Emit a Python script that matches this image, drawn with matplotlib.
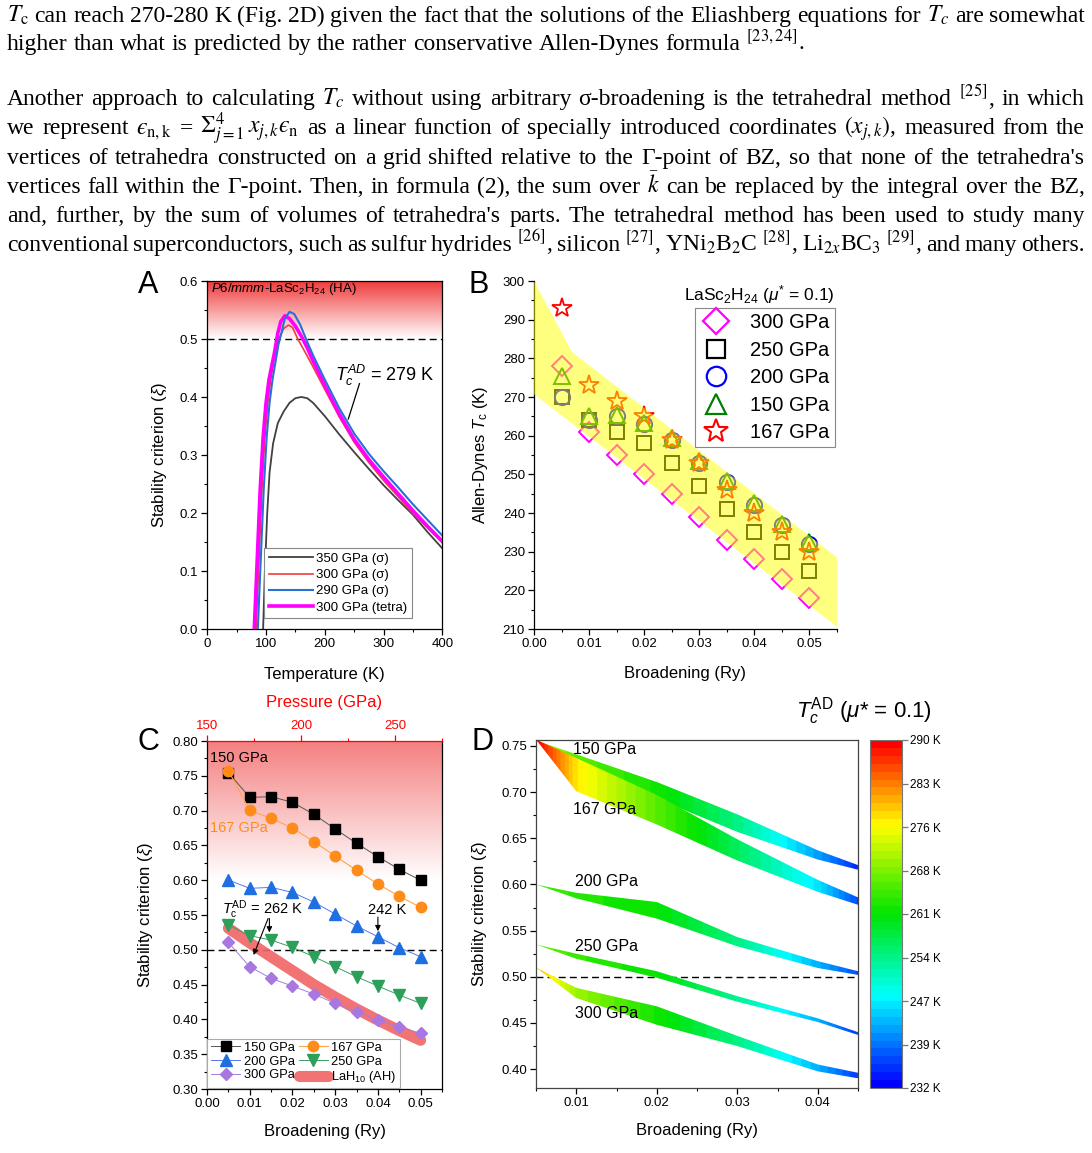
import numpy as np
import matplotlib
matplotlib.use("Agg")
import matplotlib.pyplot as plt
from matplotlib.colors import LinearSegmentedColormap, Normalize
from matplotlib.patches import Polygon
from matplotlib.lines import Line2D
import matplotlib.ticker as mticker
import matplotlib.colorbar as mcolorbar

plt.rcParams['font.family'] = ['Liberation Sans', 'DejaVu Sans']
plt.rcParams['mathtext.fontset'] = 'custom'
plt.rcParams['mathtext.rm'] = 'Liberation Sans'
plt.rcParams['mathtext.it'] = 'Liberation Sans:italic'
plt.rcParams['mathtext.bf'] = 'Liberation Sans:bold'
plt.rcParams['mathtext.sf'] = 'Liberation Sans'
plt.rcParams['axes.linewidth'] = 0.9
plt.rcParams['xtick.major.width'] = 0.9
plt.rcParams['ytick.major.width'] = 0.9
plt.rcParams['xtick.minor.width'] = 0.8
plt.rcParams['ytick.minor.width'] = 0.8

# ---------------- DATA ----------------
# Panel A: stability criterion vs temperature
T_350 = [95, 98, 102, 106, 112, 120, 130, 140, 150, 160, 170, 180, 200, 225, 250, 275, 300, 325, 350, 375, 400]
xi_350 = [0.0, 0.10, 0.20, 0.27, 0.32, 0.355, 0.375, 0.39, 0.398, 0.40, 0.398, 0.39, 0.367, 0.335, 0.305, 0.276, 0.248, 0.222, 0.197, 0.167, 0.139]
T_300 = [83, 88, 93, 98, 103, 108, 113, 118, 123, 130, 138, 145, 154, 165, 180, 200, 225, 250, 275, 300, 325, 350, 375, 400]
xi_300 = [0.0, 0.12, 0.24, 0.33, 0.39, 0.43, 0.46, 0.485, 0.503, 0.518, 0.524, 0.52, 0.50, 0.48, 0.452, 0.413, 0.365, 0.322, 0.287, 0.256, 0.228, 0.199, 0.174, 0.149]
T_290 = [86, 91, 96, 101, 106, 111, 116, 121, 126, 132, 140, 148, 158, 168, 180, 200, 225, 250, 275, 300, 325, 350, 375, 400]
xi_290 = [0.0, 0.12, 0.24, 0.33, 0.39, 0.43, 0.46, 0.49, 0.51, 0.535, 0.547, 0.543, 0.525, 0.50, 0.472, 0.43, 0.38, 0.337, 0.302, 0.272, 0.244, 0.215, 0.188, 0.161]
T_tet = [80, 85, 90, 95, 100, 105, 110, 115, 120, 125, 132, 140, 150, 160, 170, 180, 200, 225, 250, 275, 300, 325, 350, 375, 400]
xi_tet = [0.0, 0.12, 0.24, 0.33, 0.39, 0.43, 0.455, 0.48, 0.51, 0.53, 0.54, 0.535, 0.522, 0.505, 0.485, 0.462, 0.42, 0.37, 0.327, 0.292, 0.262, 0.233, 0.204, 0.177, 0.151]
labels_A = ["350 GPa (σ)", "300 GPa (σ)", "290 GPa (σ)", "300 GPa (tetra)"]

# Panel B: Allen-Dynes Tc vs broadening
broad = [0.005, 0.01, 0.015, 0.02, 0.025, 0.03, 0.035, 0.04, 0.045, 0.05]
Tc_300 = [278, 261, 255, 250, 245, 239, 233, 228, 223, 218]
Tc_250 = [270, 264, 261, 258, 253, 247, 241, 235, 230, 225]
Tc_200 = [270, 264, 265, 263, 259, 253, 248, 242, 237, 232]
Tc_150 = [275.4, 265.1, 265.3, 263.3, 259.3, 253.5, 248.3, 242.5, 237.1, 232.6]
Tc_167 = [293, 273, 269, 265, 259, 253, 246, 240, 235, 230]
band_upper_x = [0.0, 0.00685, 0.055]
band_upper = [300, 281.7, 228.5]
band_lower_x = [0.0, 0.055]
band_lower = [270.7, 210.6]

# Panel C: stability criterion vs broadening
xiC_150 = [0.7545, 0.719, 0.72, 0.712, 0.6946, 0.6736, 0.653, 0.6338, 0.6156, 0.5998]
xiC_167 = [0.7574, 0.7004, 0.6889, 0.675, 0.6554, 0.6348, 0.6142, 0.5945, 0.5768, 0.561]
xiC_200 = [0.6003, 0.5883, 0.5897, 0.5825, 0.5686, 0.5514, 0.5341, 0.5188, 0.503, 0.4901]
xiC_250 = [0.5356, 0.5203, 0.514, 0.5035, 0.4901, 0.4757, 0.4613, 0.4479, 0.435, 0.423]
xiC_300 = [0.5107, 0.4757, 0.4589, 0.4479, 0.4364, 0.423, 0.4111, 0.399, 0.3895, 0.3799]
xiC_LaH10 = [0.531, 0.51, 0.49, 0.47, 0.45, 0.432, 0.415, 0.399, 0.384, 0.370]
pressure_ticks = [150, 200, 250]

# Panel D: ribbons (upper / lower edge of xi) coloured by Tc
xD = [0.005, 0.01, 0.02, 0.03, 0.04, 0.045]
ribbons = {
    "150": dict(up=[0.756, 0.741, 0.711, 0.676, 0.637, 0.621], lo=[0.756, 0.735, 0.693, 0.657, 0.627, 0.616],
                tc=[272, 266, 262, 254, 242, 235]),
    "167": dict(up=[0.757, 0.737, 0.697, 0.649, 0.605, 0.586], lo=[0.757, 0.701, 0.665, 0.626, 0.592, 0.578],
                tc=[290, 277, 266, 256, 246, 237]),
    "200": dict(up=[0.600, 0.591, 0.581, 0.543, 0.517, 0.506], lo=[0.600, 0.585, 0.563, 0.533, 0.5095, 0.502],
                tc=[266, 263, 261, 254, 243, 237]),
    "250": dict(up=[0.535, 0.525, 0.506, 0.479, 0.455, 0.440], lo=[0.535, 0.5195, 0.499, 0.473, 0.451, 0.437],
                tc=[268, 264, 261, 253, 243, 236]),
    "300": dict(up=[0.510, 0.488, 0.468, 0.436, 0.405, 0.396], lo=[0.510, 0.477, 0.448, 0.425, 0.3975, 0.390],
                tc=[280, 270, 262, 254, 243, 236]),
}
cbar_ticks = [232, 239.25, 246.5, 253.75, 261, 268.25, 275.5, 282.75, 290]
cbar_labels = ["232 K", "239 K", "247 K", "254 K", "261 K", "268 K", "276 K", "283 K", "290 K"]

# ---------------- FIGURE ----------------
W, H = 1092, 1153
fig = plt.figure(figsize=(W / 100, H / 100), dpi=100)


def rect(x0, y0, x1, y1):
    return [x0 / W, 1 - y1 / H, (x1 - x0) / W, (y1 - y0) / H]


# ---- paragraph text ----
para = [
    (r"$T_\mathrm{c}$ can reach 270-280 K (Fig. 2D) given the fact that the solutions of the Eliashberg equations for $T_c$ are somewhat", 22, True),
    (r"higher than what is predicted by the rather conservative Allen-Dynes formula ${}^{[23,24]}$.", 50, False),
    (r"Another approach to calculating $T_c$ without using arbitrary σ-broadening is the tetrahedral method ${}^{[25]}$, in which", 105, True),
    (r"we represent $ϵ_{\mathrm{n,k}}$ = $\Sigma_{j=1}^{4}\,x_{j,k}ϵ_{\mathrm{n}}$ as a linear function of specially introduced coordinates $(x_{j,k})$, measured from the", 134, True),
    (r"vertices of tetrahedra constructed on a grid shifted relative to the Γ-point of BZ, so that none of the tetrahedra's", 164, True),
    (r"vertices fall within the Γ-point. Then, in formula (2), the sum over $\bar{k}$ can be replaced by the integral over the BZ,", 193, True),
    (r"and, further, by the sum of volumes of tetrahedra's parts. The tetrahedral method has been used to study many", 222, True),
    (r"conventional superconductors, such as sulfur hydrides ${}^{[26]}$, silicon ${}^{[27]}$, YNi$_2$B$_2$C ${}^{[28]}$, Li$_{2x}$BC$_3$ ${}^{[29]}$, and many others.", 251, True),
]
renderer = fig.canvas.get_renderer()
PSIZE = 17.0
for text, yb, just in para:
    words = text.split(' ')
    objs = [fig.text(7 / W, 1 - yb / H, w, fontsize=PSIZE, family=['Liberation Serif', 'DejaVu Serif'],
                     math_fontfamily='stix', va='baseline', ha='left') for w in words]
    widths = [o.get_window_extent(renderer).width for o in objs]
    if just and len(words) > 1:
        gap = (1085 - 7 - sum(widths)) / (len(words) - 1)
        gap = max(gap, 2.5)
    else:
        gap = PSIZE * 0.25 * 100 / 72
    x = 7
    for o, wd in zip(objs, widths):
        o.set_x(x / W)
        x += wd + gap


def style_ticks(ax):
    ax.tick_params(which='major', direction='out', length=4.5, labelsize=9.5, pad=2)
    ax.tick_params(which='minor', direction='out', length=2.5)


# ---------------- Panel A ----------------
axA = fig.add_axes(rect(207.3, 281, 442.3, 629))
gradA = LinearSegmentedColormap.from_list('w2r', ['#ffffff', '#f03c3c'])
axA.imshow(np.linspace(0, 1, 256).reshape(-1, 1), extent=[0, 400, 0.5, 0.6], origin='lower',
           aspect='auto', cmap=gradA, zorder=0)
axA.axhline(0.5, color='k', lw=1.0, ls=(0, (5, 3)), zorder=1)
axA.plot(T_350, xi_350, color='#404040', lw=1.3, label=labels_A[0], zorder=3)
axA.plot(T_300, xi_300, color='#f03c3c', lw=1.2, label=labels_A[1], zorder=3)
axA.plot(T_290, xi_290, color='#2a6fd8', lw=1.5, label=labels_A[2], zorder=4)
axA.plot(T_tet, xi_tet, color='#ff00ff', lw=2.6, label=labels_A[3], zorder=3.5)
axA.set_xlim(0, 400)
axA.set_ylim(0, 0.6)
axA.xaxis.set_major_locator(mticker.MultipleLocator(100))
axA.xaxis.set_minor_locator(mticker.MultipleLocator(50))
axA.yaxis.set_major_locator(mticker.MultipleLocator(0.1))
axA.yaxis.set_minor_locator(mticker.MultipleLocator(0.05))
axA.yaxis.set_major_formatter(mticker.FormatStrFormatter('%.1f'))
style_ticks(axA)
axA.set_xlabel("Temperature (K)", fontsize=12)
axA.set_ylabel(r"Stability criterion ($\xi$)", fontsize=12)
axA.xaxis.set_label_coords(0.5, -0.108)
axA.yaxis.set_label_coords(-0.165, 0.5)
axA.text(0.016, 0.977, r"$P6/mmm$-LaSc$_2$H$_{24}$ (HA)", transform=axA.transAxes, fontsize=9.5,
         ha='left', va='center')
axA.text(217, 0.438, r"$T_c^{AD}$ = 279 K", fontsize=13, ha='left', va='center')
axA.plot([259, 240], [0.423, 0.362], color='k', lw=0.9)
legA = axA.legend(loc='lower right', bbox_to_anchor=(0.90, 0.012), fontsize=9.5, frameon=True,
                  fancybox=False, edgecolor='#888888', framealpha=1, handlelength=3.3,
                  handletextpad=0.3, labelspacing=0.3, borderpad=0.35)
legA.get_frame().set_linewidth(0.8)

# ---------------- Panel B ----------------
axB = fig.add_axes(rect(534, 281, 837, 629))
axB.plot(broad, Tc_300, ls='none', marker='D', ms=10.5, mfc='none', mec='#ff00ff', mew=1.4, zorder=3)
axB.plot(broad, Tc_250, ls='none', marker='s', ms=10.5, mfc='none', mec='#000000', mew=1.4, zorder=3)
axB.plot(broad, Tc_200, ls='none', marker='o', ms=11, mfc='none', mec='#0000ff', mew=1.4, zorder=3)
axB.plot(broad, Tc_150, ls='none', marker='^', ms=12, mfc='none', mec='#008000', mew=1.4, zorder=3)
axB.plot(broad, Tc_167, ls='none', marker='*', ms=14.5, mfc='none', mec='#ff0000', mew=1.3, zorder=3)
band_verts = np.column_stack([np.r_[band_upper_x, band_lower_x[::-1]], np.r_[band_upper, band_lower[::-1]]])
band = Polygon(band_verts, closed=True, facecolor=(1, 1, 0, 0.5), edgecolor='none', zorder=5)
axB.add_patch(band)
axB.set_xlim(0, 0.055)
axB.set_ylim(210, 300)
axB.spines['top'].set_visible(False)
axB.spines['right'].set_visible(False)
axB.xaxis.set_major_locator(mticker.MultipleLocator(0.01))
axB.xaxis.set_minor_locator(mticker.MultipleLocator(0.005))
axB.xaxis.set_major_formatter(mticker.FormatStrFormatter('%.2f'))
axB.yaxis.set_major_locator(mticker.MultipleLocator(10))
axB.yaxis.set_minor_locator(mticker.MultipleLocator(5))
style_ticks(axB)
axB.set_xlabel("Broadening (Ry)", fontsize=12)
axB.set_ylabel(r"Allen-Dynes $T_\mathrm{c}$ (K)", fontsize=12)
axB.xaxis.set_label_coords(0.5, -0.105)
axB.yaxis.set_label_coords(-0.145, 0.5)
handlesB = [
    Line2D([], [], ls='none', marker='D', ms=13, mfc='none', mec='#ff00ff', mew=1.6),
    Line2D([], [], ls='none', marker='s', ms=13, mfc='none', mec='#000000', mew=1.6),
    Line2D([], [], ls='none', marker='o', ms=14, mfc='none', mec='#0000ff', mew=1.6),
    Line2D([], [], ls='none', marker='^', ms=15, mfc='none', mec='#008000', mew=1.6),
    Line2D([], [], ls='none', marker='*', ms=18, mfc='none', mec='#ff0000', mew=1.5),
]
legB = axB.legend(handlesB, ["300 GPa", "250 GPa", "200 GPa", "150 GPa", "167 GPa"], loc='upper right',
                  bbox_to_anchor=(0.992, 0.922), fontsize=14.5, frameon=True, fancybox=False,
                  edgecolor='#888888', framealpha=1, handlelength=1.6, handletextpad=0.9,
                  labelspacing=0.42, borderpad=0.25, borderaxespad=0)
legB.get_frame().set_linewidth(0.8)
legB.set_zorder(10)
axB.text(0.99, 0.96, r"LaSc$_2$H$_{24}$ ($\mu^{*}$ = 0.1)", transform=axB.transAxes, fontsize=12.5,
         ha='right', va='center')

# ---------------- Panel C ----------------
axC = fig.add_axes(rect(207, 741, 442, 1089))
gradC = LinearSegmentedColormap.from_list('w2p', ['#ffffff', '#f47f7f'])
axC.imshow(np.linspace(0, 1, 256).reshape(-1, 1), extent=[0, 0.055, 0.6, 0.8], origin='lower',
           aspect='auto', cmap=gradC, zorder=0)
axC.axhline(0.5, color='k', lw=1.0, ls=(0, (5, 3)), zorder=1)
axC.plot(broad, xiC_LaH10, color='#f06464', lw=8, alpha=0.9, solid_capstyle='round', zorder=2,
         label=r"LaH$_{10}$ (AH)")
axC.plot(broad, xiC_150, color='#555555', lw=0.7, marker='s', ms=6.5, mfc='k', mec='k', zorder=4, label="150 GPa")
axC.plot(broad, xiC_167, color='#ffa64d', lw=0.8, marker='o', ms=7.5, mfc='#ff8c1a', mec='#ff8c1a', zorder=4, label="167 GPa")
axC.plot(broad, xiC_200, color='#5577ee', lw=0.7, marker='^', ms=8, mfc='#1f6fe0', mec='#1f6fe0', zorder=4, label="200 GPa")
axC.plot(broad, xiC_250, color='#3aa060', lw=0.7, marker='v', ms=8, mfc='#2ca05a', mec='#2ca05a', zorder=4, label="250 GPa")
axC.plot(broad, xiC_300, color='#a47fe0', lw=0.7, marker='D', ms=6, mfc='#a878e0', mec='#a878e0', zorder=3, label="300 GPa")
axC.set_xlim(0, 0.055)
axC.set_ylim(0.30, 0.80)
axC.xaxis.set_major_locator(mticker.MultipleLocator(0.01))
axC.xaxis.set_minor_locator(mticker.MultipleLocator(0.005))
axC.xaxis.set_major_formatter(mticker.FormatStrFormatter('%.2f'))
axC.yaxis.set_major_locator(mticker.MultipleLocator(0.05))
axC.yaxis.set_minor_locator(mticker.MultipleLocator(0.025))
axC.yaxis.set_major_formatter(mticker.FormatStrFormatter('%.2f'))
style_ticks(axC)
axC.set_xlabel("Broadening (Ry)", fontsize=12)
axC.set_ylabel(r"Stability criterion ($\xi$)", fontsize=12)
axC.xaxis.set_label_coords(0.5, -0.1)
axC.yaxis.set_label_coords(-0.22, 0.5)
axC.spines['top'].set_visible(False)
axC2 = axC.twiny()
axC2.set_xlim(150, 275)
axC2.set_xticks(pressure_ticks)
axC2.xaxis.set_minor_locator(mticker.MultipleLocator(25))
axC2.spines['top'].set_color('#ff0000')
for s in ['left', 'right', 'bottom']:
    axC2.spines[s].set_visible(False)
axC2.tick_params(axis='x', which='major', direction='out', length=4.5, colors='#ff0000', labelsize=9.5, pad=2)
axC2.tick_params(axis='x', which='minor', direction='out', length=2.5, colors='#ff0000')
axC2.set_xlabel("Pressure (GPa)", fontsize=12, color='#ff0000', labelpad=9)
axC.text(0.0008, 0.775, "150 GPa", fontsize=10.5, ha='left', va='center', zorder=6)
axC.text(0.0008, 0.675, "167 GPa", fontsize=10.5, ha='left', va='center', color='#ff8c1a', zorder=6)
axC.text(0.0035, 0.557, r"$T_\mathrm{c}^\mathrm{AD}$ = 262 K", fontsize=10.5, ha='left', va='center', zorder=6)
axC.text(0.0376, 0.557, "242 K", fontsize=10.5, ha='left', va='center', zorder=6)
ap = dict(arrowstyle='-|>', color='k', lw=0.8, mutation_scale=8, shrinkA=0, shrinkB=0)
axC.annotate('', xy=(broad[2] - 0.0004, xiC_250[2] + 0.011), xytext=(broad[2] - 0.0004, 0.545), arrowprops=ap, zorder=6)
axC.annotate('', xy=(0.0109, 0.4925), xytext=(0.0143, 0.545), arrowprops=ap, zorder=6)
axC.annotate('', xy=(broad[7], xiC_200[7] + 0.008), xytext=(broad[7], 0.547), arrowprops=ap, zorder=6)
hC, lC = axC.get_legend_handles_labels()
order = [1, 3, 5, 2, 4, 0]
legC = axC.legend([hC[i] for i in order], [lC[i] for i in order], ncol=2, loc='lower left',
                  bbox_to_anchor=(0.002, 0.002), fontsize=9.3, frameon=True, fancybox=False,
                  edgecolor='#aaaaaa', framealpha=1, handlelength=2.3, handletextpad=0.25,
                  labelspacing=0.12, columnspacing=0.3, borderpad=0.25, borderaxespad=0)
legC.get_frame().set_linewidth(0.8)
legC.set_zorder(10)

# ---------------- Panel D ----------------
cmapD = LinearSegmentedColormap.from_list(
    'rainbowD', [(0.0, '#0000ff'), (0.26, '#00ffff'), (0.5, '#00e400'), (0.76, '#ffff00'), (1.0, '#ff0000')], N=44)
normD = Normalize(232, 290)
axD = fig.add_axes(rect(536, 740, 858, 1088))
axD.axhline(0.5, color='k', lw=1.0, ls=(0, (5, 3)), zorder=1)
for key in ["150", "167", "200", "250", "300"]:
    r = ribbons[key]
    xs = np.array(xD)
    up = np.array(r['up'])
    lo = np.array(r['lo'])
    poly = Polygon(np.column_stack([np.r_[xs, xs[::-1]], np.r_[up, lo[::-1]]]), closed=True,
                   facecolor='none', edgecolor='none')
    axD.add_patch(poly)
    xg = np.linspace(xs[0], xs[-1], 500)
    tg = np.interp(xg, xs, r['tc'])
    im = axD.imshow(tg[np.newaxis, :], extent=[xs[0], xs[-1], lo.min(), up.max()], cmap=cmapD, norm=normD,
                    aspect='auto', origin='lower', interpolation='bilinear', zorder=2)
    im.set_clip_path(poly)
axD.set_xlim(0.005, 0.045)
axD.set_ylim(0.3795, 0.7565)
axD.xaxis.set_major_locator(mticker.FixedLocator([0.01, 0.02, 0.03, 0.04]))
axD.xaxis.set_minor_locator(mticker.FixedLocator([0.005, 0.015, 0.025, 0.035, 0.045]))
axD.xaxis.set_major_formatter(mticker.FormatStrFormatter('%.2f'))
axD.yaxis.set_major_locator(mticker.MultipleLocator(0.05))
axD.yaxis.set_minor_locator(mticker.MultipleLocator(0.025))
axD.yaxis.set_major_formatter(mticker.FormatStrFormatter('%.2f'))
style_ticks(axD)
for s in axD.spines.values():
    s.set_color('#444444')
axD.set_xlabel("Broadening (Ry)", fontsize=12)
axD.set_ylabel(r"Stability criterion ($\xi$)", fontsize=12)
axD.xaxis.set_label_coords(0.5, -0.102)
axD.yaxis.set_label_coords(-0.145, 0.5)
for key, (tx, ty) in zip(["150", "167", "200", "250", "300"],
                         [(0.0096, 0.7457), (0.0096, 0.6808), (0.0098, 0.6028), (0.0098, 0.5325), (0.0098, 0.46)]):
    axD.text(tx, ty, f"{key} GPa", fontsize=11.5, ha='left', va='center', zorder=6)

cax = fig.add_axes(rect(870, 740, 902, 1088))
cb = mcolorbar.ColorbarBase(cax, cmap=cmapD, norm=normD, orientation='vertical')
cb.set_ticks(cbar_ticks)
cb.set_ticklabels(cbar_labels)
cb.outline.set_edgecolor('#777777')
cb.outline.set_linewidth(0.8)
cax.tick_params(direction='out', length=4, color='#777777', labelsize=8.5, pad=2)
cax.minorticks_off()
fig.text(864 / W, 1 - 711 / H, r"$T_c^{\mathrm{AD}}$ ($\mu$* = 0.1)", fontsize=16, ha='center', va='center')

# ---- panel letters ----
for letter, (px, py) in zip("ABCD", [(148, 285), (479, 285), (148, 742), (483, 742)]):
    fig.text(px / W, 1 - py / H, letter, fontsize=22, ha='center', va='center')

fig.savefig("out.png", dpi=100)
